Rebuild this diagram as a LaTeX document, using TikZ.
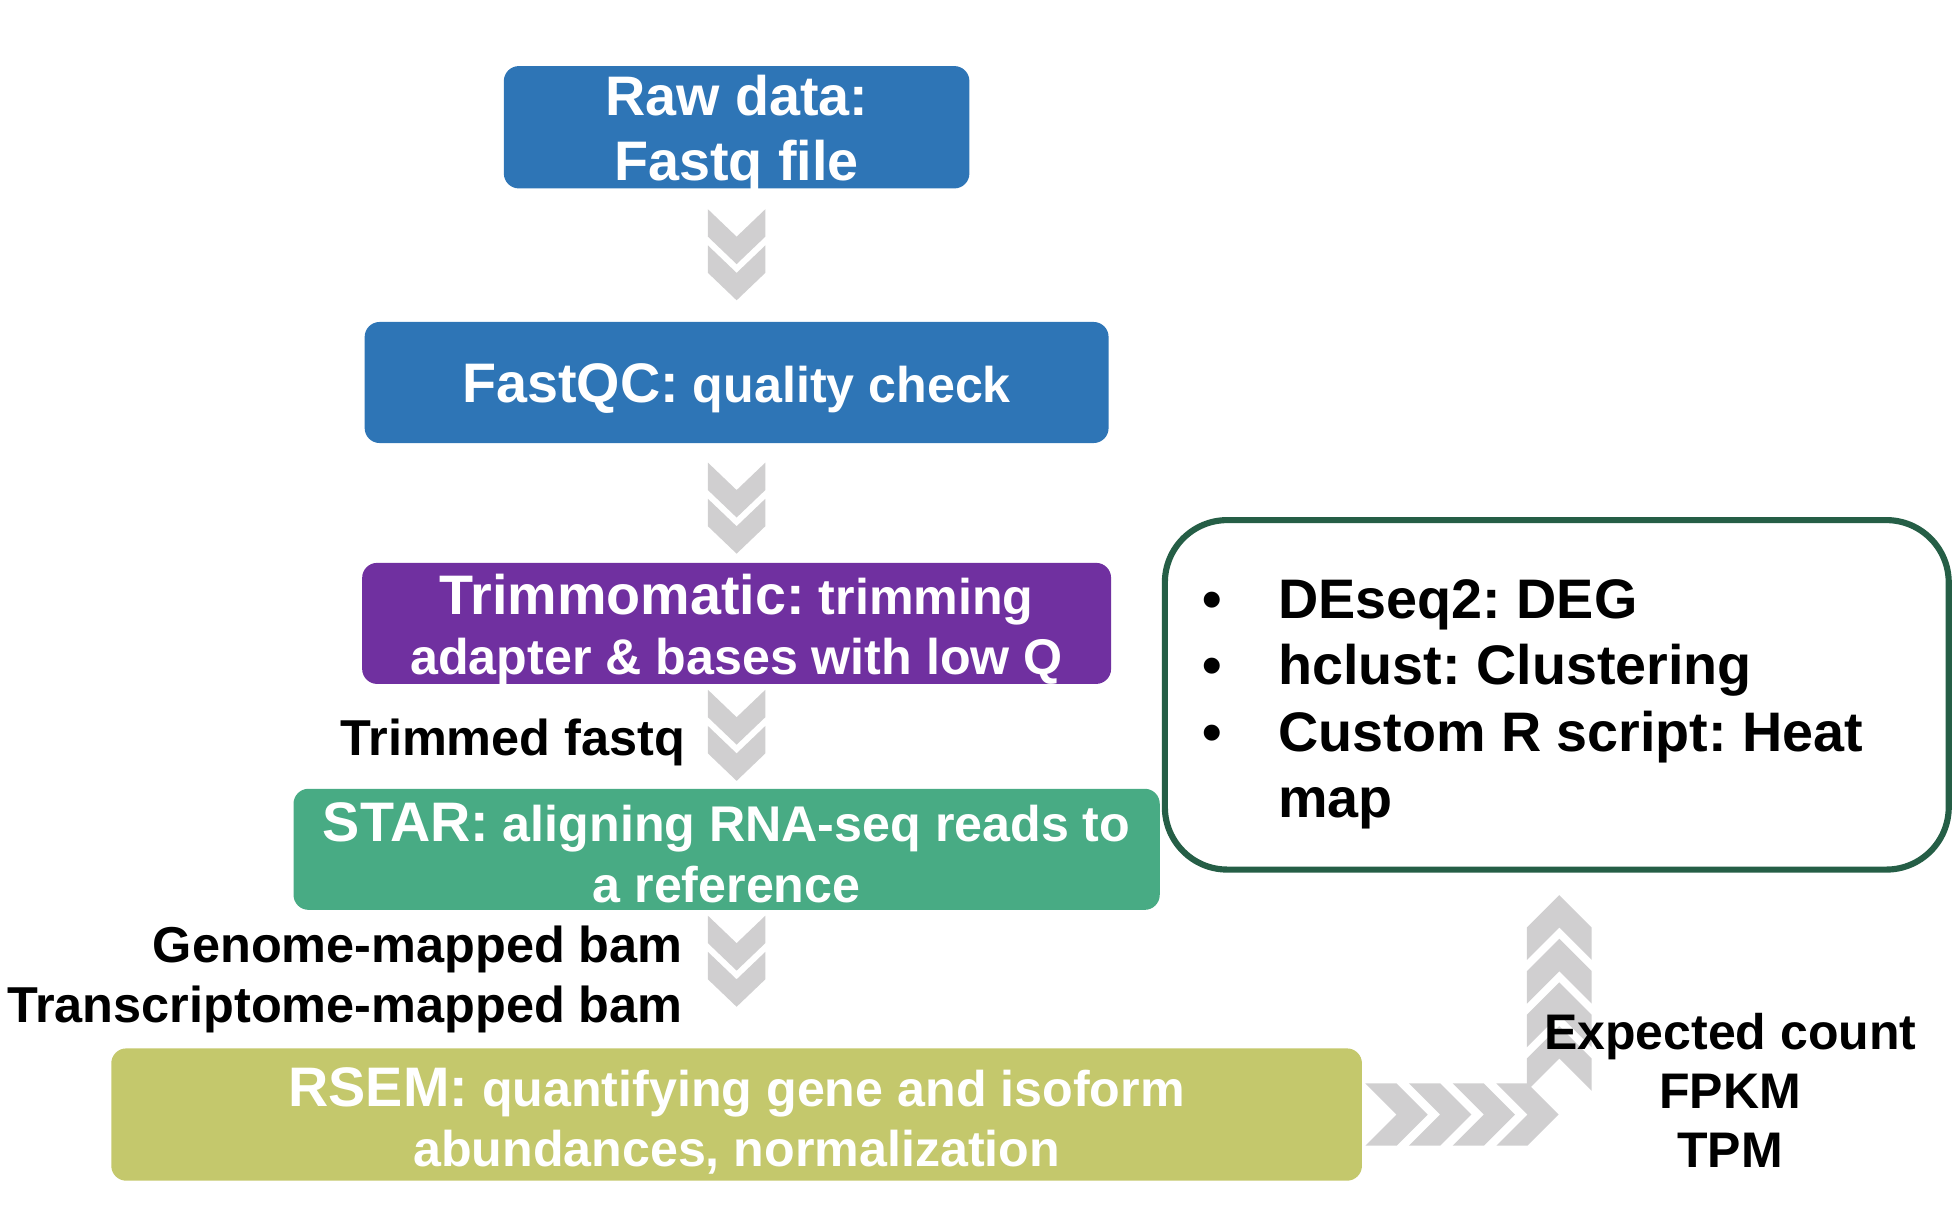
\documentclass[tikz,border=0pt]{standalone}
\usepackage{fontspec}
\setmainfont{Liberation Sans}
\usepackage{tikz}
\usetikzlibrary{positioning,calc}
\frenchspacing

\definecolor{rawblue}{HTML}{2E75B6}
\definecolor{trimpurple}{HTML}{7030A0}
\definecolor{stargreen}{HTML}{48AB84}
\definecolor{rsemolive}{HTML}{C4C86C}
\definecolor{boxgreen}{HTML}{255E46}
\definecolor{chevgrey}{HTML}{D0CFD0}

\newcommand{\toolname}[1]{{\fontsize{12.7}{14.8}\selectfont #1}}

\tikzset{
	stage/.style={on grid, rectangle, rounded corners=0.12cm, inner sep=0pt, minimum height=0.97cm},
	stagetext/.style={inner sep=0pt, align=center, text=white, font=\bfseries\fontsize{11.44}{13.8}\selectfont, yshift=-0.05cm},
	lbl/.style={inner sep=0pt, font=\bfseries\fontsize{11.5}{13.7}\selectfont},
	chevdown/.pic={\foreach \s in {0,29} \fill[chevgrey] (-23,\s) -- (0,\s+22) -- (23,\s) -- (23,\s+22) -- (0,\s+44) -- (-23,\s+22) -- cycle;},
	chevright/.pic={\fill[chevgrey] (0,-25) -- (25,0) -- (0,25) -- (25,25) -- (50,0) -- (25,-25) -- cycle;},
	chevup/.pic={\fill[chevgrey] (0,0) -- (26,26) -- (26,52) -- (0,26) -- (-26,52) -- (-26,26) -- cycle;}
}

\begin{document}
\begin{tikzpicture}[x=0.01cm, y=-0.01cm]
		\useasboundingbox (0,0) rectangle (1568,975);
		
		\node[stage, fill=rawblue, minimum width=3.73cm, minimum height=0.98cm, label={[stagetext, font=\bfseries\fontsize{12.7}{14.8}\selectfont]center:Raw data:\\Fastq file}] (raw) at (590.5,102) {};
		\node[stage, fill=rawblue, minimum width=5.96cm, below=2.045cm of raw, label={[stagetext]center:\toolname{FastQC:} quality check}] (fastqc) {};
		\node[stage, fill=trimpurple, minimum width=6.00cm, below=1.93cm of fastqc, label={[stagetext]center:\toolname{Trimmomatic:} trimming\\adapter \& bases with low Q}] (trim) {};
		\node[stage, fill=stargreen, minimum width=6.94cm, below=1.81cm of trim, xshift=-0.08cm, label={[stagetext, yshift=0.02cm]center:\toolname{STAR:} aligning RNA-seq reads to\\a reference}] (star) {};
		\node[stage, fill=rsemolive, minimum width=10.02cm, minimum height=1.06cm, below=2.125cm of star, xshift=0.08cm, label={[stagetext]center:\toolname{RSEM:} quantifying gene and isoform\\abundances, normalization}] (rsem) {};
		
		\node[draw=boxgreen, line width=1.4pt, rounded corners=0.5cm, minimum width=6.28cm, minimum height=2.80cm, inner sep=0pt] (downstream) at (1248,557) {};
		\node[lbl, anchor=west, font=\bfseries\fontsize{12.7}{15.1}\selectfont] (tasks) at (963,565) {\begin{tabular}{@{}p{0.61cm}@{}l@{}}
				\textbullet & DEseq2: DEG\\
				\textbullet & hclust: Clustering\\
				\textbullet & Custom R script: Heat\\
				& map
			\end{tabular}};
		
		% chevrons between the stages
		\pic at ($(raw.south)+(0,16)$) {chevdown};
		\pic at ($(fastqc.south)+(0,15)$) {chevdown};
		\pic at ($(trim.south)+(0,4)$) {chevdown};
		\pic at ($(trim.south |- star.south)+(0,4)$) {chevdown};
		\foreach \i in {0,...,3} \pic at ($(rsem.east)+(2+35*\i,0)$) {chevright};
		\foreach \i in {0,...,3} \pic at ($(downstream.south)+(2,18+35*\i)$) {chevup};
		
		\node[lbl, anchor=east] (trimmedlbl) at (550,595) {Trimmed fastq};
		\node[lbl, anchor=east, align=right] (bamlbl) at (548,785) {Genome-mapped bam\\Transcriptome-mapped bam};
		\node[lbl, align=center, font=\bfseries\fontsize{11.4}{13.4}\selectfont] (countlbl) at (1387,874) {Expected count\\FPKM\\TPM};
	\end{tikzpicture}
\end{document}
